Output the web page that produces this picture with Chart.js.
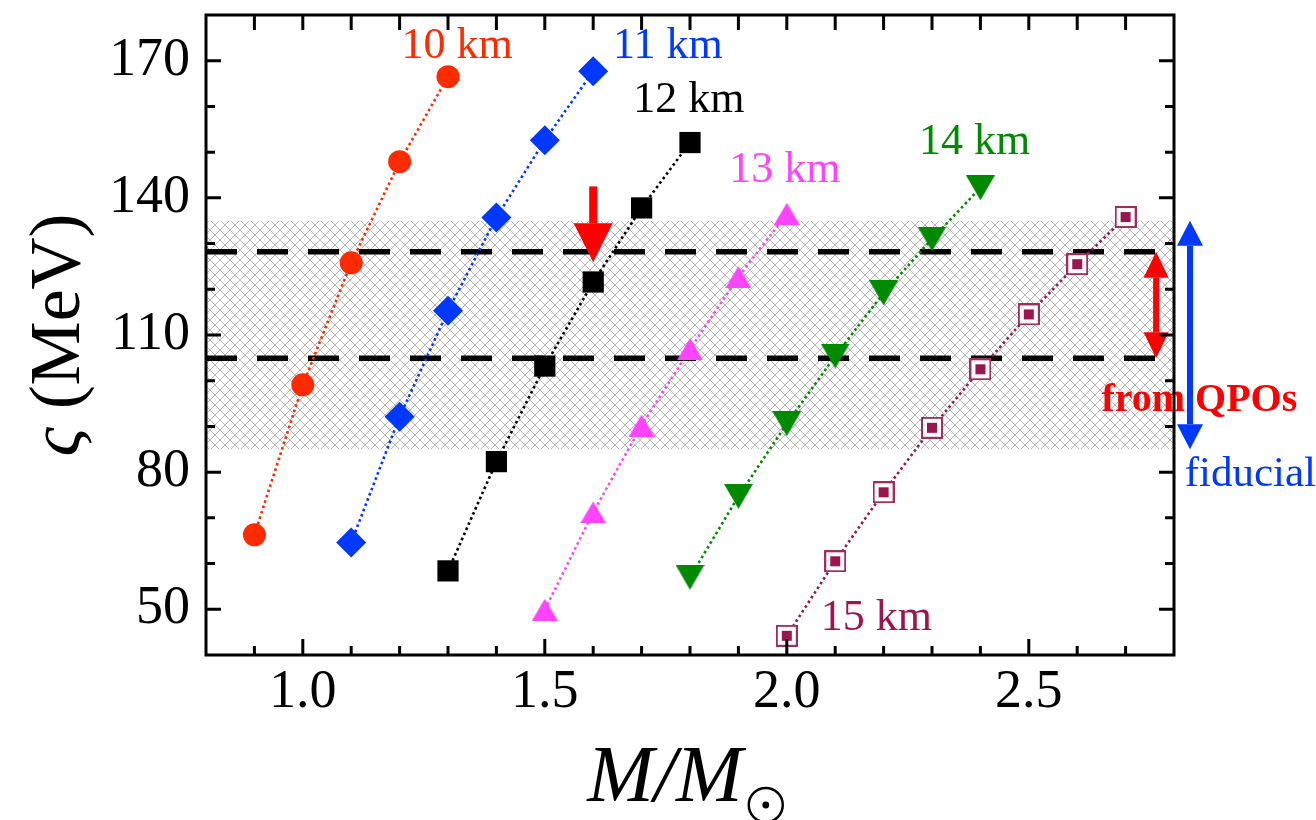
<!DOCTYPE html>
<html>
<head>
<meta charset="utf-8">
<script src="https://cdn.jsdelivr.net/npm/chart.js@4.4.1/dist/chart.umd.min.js"></script>
<style>
  html, body { margin: 0; padding: 0; background: #fff; }
</style>
</head>
<body>
<canvas id="chart" width="1316" height="820"></canvas>
<script>
// M/Msun vs zeta (MeV), one curve per radius
const mass10 = [0.9, 1.0, 1.1, 1.2, 1.3];
const zeta10 = [66.3, 99.1, 125.8, 147.9, 166.5];
const mass11 = [1.1, 1.2, 1.3, 1.4, 1.5, 1.6];
const zeta11 = [64.6, 92.1, 115.3, 135.7, 152.6, 167.7];
const mass12 = [1.3, 1.4, 1.5, 1.6, 1.7, 1.8];
const zeta12 = [58.4, 82.3, 103.2, 121.6, 137.8, 152.1];
const mass13 = [1.5, 1.6, 1.7, 1.8, 1.9, 2.0];
const zeta13 = [49.9, 71.2, 90.2, 106.9, 122.7, 136.5];
const mass14 = [1.8, 1.9, 2.0, 2.1, 2.2, 2.3, 2.4];
const zeta14 = [57.0, 74.7, 90.6, 105.4, 119.2, 131.0, 142.2];
const mass15 = [2.0, 2.1, 2.2, 2.3, 2.4, 2.5, 2.6, 2.7];
const zeta15 = [44.2, 60.5, 75.6, 89.7, 102.5, 114.5, 125.5, 135.8];

// fiducial band and QPO limits
const fiducialBand = [85, 135];
const qpoLimits = [104.9, 128.2];
const massMark = [1.6, 142.5, 125.9]; // x, arrow start, arrow tip

const xTicks = [1.0, 1.5, 2.0, 2.5];
const yTicks = [50, 80, 110, 140, 170];
const xMinor = [0.9, 1.0, 1.1, 1.2, 1.3, 1.4, 1.5, 1.6, 1.7, 1.8, 1.9, 2.0, 2.1, 2.2, 2.3, 2.4, 2.5, 2.6, 2.7];
const yMinor = [50, 60, 70, 80, 90, 100, 110, 120, 130, 140, 150, 160, 170];

const serif = '"Liberation Serif", "Times New Roman", serif';

const pts = (xs, ys) => xs.map((v, i) => ({ x: v, y: ys[i] }));

// cross hatch for the band
function hatch() {
    const c = document.createElement('canvas');
    c.width = 10; c.height = 10;
    const g = c.getContext('2d');
    g.strokeStyle = '#888';
    g.lineWidth = 0.6;
    g.beginPath();
    g.moveTo(0, 0); g.lineTo(10, 10);
    g.moveTo(10, 0); g.lineTo(0, 10);
    g.stroke();
    return g.createPattern(c, 'repeat');
}

// triangles centred on their bounding box (like matplotlib)
function triangle(w, h, color, down) {
    const c = document.createElement('canvas');
    c.width = w; c.height = h;
    const g = c.getContext('2d');
    g.fillStyle = color;
    g.beginPath();
    if (down) { g.moveTo(0, 0); g.lineTo(w, 0); g.lineTo(w / 2, h); }
    else { g.moveTo(w / 2, 0); g.lineTo(w, h); g.lineTo(0, h); }
    g.closePath();
    g.fill();
    return c;
}

// open square with a small filled square inside
function dotSquare(color) {
    const c = document.createElement('canvas');
    c.width = 22; c.height = 22;
    const g = c.getContext('2d');
    g.fillStyle = '#fff';
    g.fillRect(0, 0, 22, 22);
    g.strokeStyle = color;
    g.lineWidth = 1.8;
    g.strokeRect(1, 1, 20, 20);
    g.fillStyle = color;
    g.fillRect(6, 6, 10, 10);
    return c;
}

const red = '#ff2a00', blue = '#0038ff', magenta = '#ff44ff', green = '#008a00', purple = '#991650';

function series(xs, ys, color, style, radius) {
    return {
        data: pts(xs, ys),
        borderColor: color,
        backgroundColor: color,
        borderWidth: 2.6,
        borderDash: [2.6, 3],
        pointStyle: style,
        pointRadius: radius,
        pointBorderWidth: 0,
        fill: false,
        order: 0
    };
}

const labels = [
    { text: '10 km', x: 1.204, y: 170.7, color: red },
    { text: '11 km', x: 1.641, y: 170.7, color: blue },
    { text: '12 km', x: 1.683, y: 158.7, color: '#000' },
    { text: '13 km', x: 1.881, y: 143.5, color: magenta },
    { text: '14 km', x: 2.273, y: 149.6, color: green },
    { text: '15 km', x: 2.070, y: 45.5, color: purple },
    { text: 'from QPOs', x: 2.650, y: 93.4, color: '#ff0000', weight: 'bold ', size: 40 },
    { text: 'fiducial', x: 2.822, y: 76.9, color: blue, size: 43 }
];

function arrow(ctx, px, y0, y1, shaft, headW, headL, color, both) {
    // y0 -> y1, head at y1 (and y0 if both)
    const dir = Math.sign(y1 - y0);
    ctx.fillStyle = color;
    const s0 = both ? y0 + dir * headL : y0;
    const s1 = y1 - dir * headL;
    ctx.fillRect(px - shaft / 2, Math.min(s0, s1), shaft, Math.abs(s1 - s0));
    const head = (tip, d) => {
        ctx.beginPath();
        ctx.moveTo(px, tip);
        ctx.lineTo(px - headW / 2, tip - d * headL);
        ctx.lineTo(px + headW / 2, tip - d * headL);
        ctx.closePath();
        ctx.fill();
    };
    head(y1, dir);
    if (both) head(y0, -dir);
}

const decorations = {
    id: 'decorations',
    afterDatasetsDraw(chart) {
        const { ctx, scales: { x, y } } = chart;
        ctx.save();
        // mass marker arrow
        arrow(ctx, x.getPixelForValue(massMark[0]), y.getPixelForValue(massMark[1]),
            y.getPixelForValue(massMark[2]), 8, 39, 39, '#ff0000', false);
        // QPO range
        arrow(ctx, x.getPixelForValue(2.763), y.getPixelForValue(qpoLimits[1]),
            y.getPixelForValue(qpoLimits[0]), 6, 25, 26, '#ff0000', true);
        // fiducial range
        arrow(ctx, x.getPixelForValue(2.833), y.getPixelForValue(fiducialBand[1]),
            y.getPixelForValue(fiducialBand[0]), 6, 26, 25, blue, true);

        ctx.textAlign = 'left';
        ctx.textBaseline = 'alphabetic';
        labels.forEach(l => {
            ctx.font = (l.weight || '') + (l.size || 44) + 'px ' + serif;
            ctx.fillStyle = l.color;
            ctx.fillText(l.text, x.getPixelForValue(l.x), y.getPixelForValue(l.y));
        });
        ctx.restore();
    },
    afterDraw(chart) {
        const { ctx, chartArea: a, scales: { x, y } } = chart;
        ctx.save();
        ctx.strokeStyle = '#000';
        ctx.lineWidth = 3;
        ctx.beginPath();
        xMinor.forEach(v => {
            const px = x.getPixelForValue(v);
            const len = xTicks.includes(v) ? 16 : 9;
            ctx.moveTo(px, a.bottom); ctx.lineTo(px, a.bottom - len);
            ctx.moveTo(px, a.top); ctx.lineTo(px, a.top + 15);
        });
        yMinor.forEach(v => {
            const py = y.getPixelForValue(v);
            const len = yTicks.includes(v) ? 15 : 9;
            ctx.moveTo(a.left, py); ctx.lineTo(a.left + len, py);
            ctx.moveTo(a.right, py); ctx.lineTo(a.right - len, py);
        });
        ctx.stroke();
        ctx.strokeRect(a.left, a.top, a.right - a.left, a.bottom - a.top);

        // y title
        ctx.fillStyle = '#000';
        ctx.translate(79, (a.top + a.bottom) / 2);
        ctx.rotate(-Math.PI / 2);
        ctx.textBaseline = 'alphabetic';
        ctx.font = 'italic 72px ' + serif;
        const w1 = ctx.measureText('ς').width;
        ctx.font = '72px ' + serif;
        const w2 = ctx.measureText(' (MeV)').width;
        ctx.textAlign = 'left';
        ctx.font = 'italic 72px ' + serif;
        ctx.fillText('ς', -(w1 + w2) / 2, 0);
        ctx.font = '72px ' + serif;
        ctx.fillText(' (MeV)', -(w1 + w2) / 2 + w1, 0);
        ctx.setTransform(1, 0, 0, 1, 0, 0);

        // x title M/M_sun
        ctx.font = 'italic 80px ' + serif;
        const wm = ctx.measureText('M/M').width;
        const sun = 40;
        const left = (a.left + a.right) / 2 - 5 - (wm + sun) / 2;
        ctx.fillText('M/M', left, 801);
        const cx = left + wm + 6 + 17, cy = 805;
        ctx.lineWidth = 2.5;
        ctx.beginPath();
        ctx.arc(cx, cy, 17, 0, Math.PI * 2);
        ctx.stroke();
        ctx.beginPath();
        ctx.arc(cx, cy, 3.4, 0, Math.PI * 2);
        ctx.fill();
        ctx.restore();
    }
};

const ctx = document.getElementById('chart').getContext('2d');
const chart = new Chart(ctx, {
    type: 'scatter',
    data: {
        datasets: [
            series(mass10, zeta10, red, 'circle', 11.5),
            series(mass11, zeta11, blue, 'rectRot', 15),
            series(mass12, zeta12, '#000', 'rect', 15),
            series(mass13, zeta13, magenta, triangle(26, 22, magenta, false), 13),
            series(mass14, zeta14, green, triangle(29, 25, green, true), 14),
            series(mass15, zeta15, purple, dotSquare(purple), 11),
            {
                data: [{ x: 0.8, y: qpoLimits[1] }, { x: 2.8, y: qpoLimits[1] }],
                borderColor: '#000', borderWidth: 5.5, borderDash: [31, 20],
                pointRadius: 0, showLine: true, fill: false, order: 8
            },
            {
                data: [{ x: 0.8, y: qpoLimits[0] }, { x: 2.8, y: qpoLimits[0] }],
                borderColor: '#000', borderWidth: 5.5, borderDash: [31, 20],
                pointRadius: 0, showLine: true, fill: false, order: 8
            },
            {
                data: [{ x: 0.8, y: fiducialBand[1] }, { x: 2.8, y: fiducialBand[1] }],
                borderWidth: 0, borderColor: 'rgba(0,0,0,0)',
                backgroundColor: hatch(),
                fill: { value: fiducialBand[0] },
                pointRadius: 0, showLine: true, order: 10
            }
        ]
    },
    options: {
        responsive: false,
        animation: false,
        showLine: true,
        layout: { padding: { left: 0, right: 142, top: 10, bottom: 0 } },
        scales: {
            x: {
                type: 'linear', min: 0.8, max: 2.8,
                afterBuildTicks: (axis) => { axis.ticks = xTicks.map(v => ({ value: v })); },
                afterFit: (s) => { s.height = 165; s.paddingLeft = 0; s.paddingRight = 0; },
                grid: { display: false, drawTicks: false },
                border: { display: false },
                ticks: {
                    color: '#000', padding: 5, maxRotation: 0, autoSkip: false,
                    font: { family: serif, size: 54 },
                    callback: (v) => Number(v).toFixed(1)
                }
            },
            y: {
                type: 'linear', min: 40, max: 180,
                afterBuildTicks: (axis) => { axis.ticks = yTicks.map(v => ({ value: v })); },
                afterFit: (s) => { s.width = 206; s.paddingTop = 0; s.paddingBottom = 0; },
                grid: { display: false, drawTicks: false },
                border: { display: false },
                ticks: {
                    color: '#000', padding: 16, autoSkip: false,
                    font: { family: serif, size: 54 },
                    callback: (v) => String(v)
                }
            }
        },
        plugins: {
            legend: { display: false },
            tooltip: { enabled: false }
        }
    },
    plugins: [decorations]
});
</script>
</body>
</html>
